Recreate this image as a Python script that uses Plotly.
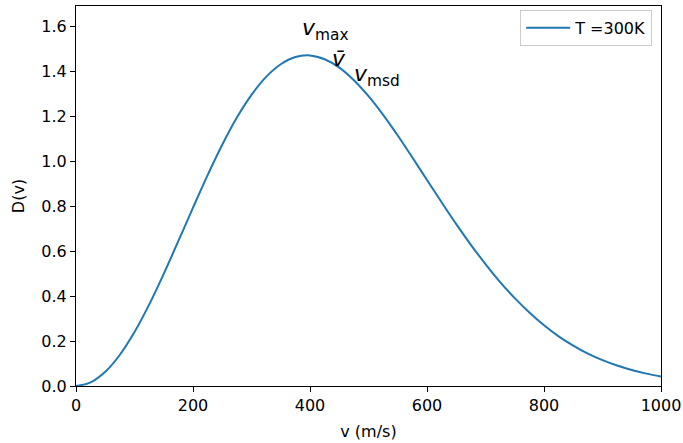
import plotly.graph_objects as go

# speed (m/s) and distribution values
speed = [0, 25, 50, 75, 100, 125, 150, 175, 200, 225, 250, 275, 300, 325, 350, 375,
         400, 425, 450, 475, 500, 525, 550, 575, 600, 625, 650, 675, 700, 725, 750,
         775, 800, 825, 850, 875, 900, 925, 950, 975, 1000]
density = [0.0, 0.016, 0.063, 0.139, 0.240, 0.362, 0.499, 0.645, 0.793, 0.938, 1.073,
           1.194, 1.295, 1.375, 1.431, 1.463, 1.470, 1.453, 1.416, 1.360, 1.289, 1.206,
           1.114, 1.016, 0.916, 0.817, 0.720, 0.628, 0.542, 0.462, 0.391, 0.327, 0.270,
           0.221, 0.180, 0.144, 0.115, 0.091, 0.071, 0.055, 0.042]

# characteristic speed labels: (label html, v, D)
label_text = ["<i>v</i><sub>max</sub>", "<i>v̄</i>", "<i>v</i><sub>msd</sub>"]
label_v = [386, 438, 475]
label_d = [1.542, 1.424, 1.338]

x_ticks = [0, 200, 400, 600, 800, 1000]
y_ticks = [0.0, 0.2, 0.4, 0.6, 0.8, 1.0, 1.2, 1.4, 1.6]

FONT = "DejaVu Sans"

fig = go.Figure()
fig.add_trace(go.Scatter(x=speed, y=density, mode="lines", name="T =300K",
                         line=dict(color="#1f77b4", width=2, shape="spline")))

for t, xv, yv in zip(label_text, label_v, label_d):
    fig.add_annotation(x=xv, y=yv, text=t, showarrow=False, xanchor="left",
                       yanchor="bottom", font=dict(family=FONT, size=22, color="black"),
                       xshift=-2, yshift=-7)

axis_common = dict(showgrid=False, zeroline=False, showline=True, linecolor="black",
                   linewidth=1, mirror=True, ticks="outside", ticklen=5, tickwidth=1,
                   tickcolor="black", tickfont=dict(family=FONT, size=16, color="black"),
                   automargin=False, ticklabeloverflow="allow")

fig.update_xaxes(range=[0, 1000], tickvals=x_ticks, ticktext=[str(v) for v in x_ticks],
                 title=dict(text="v (m/s)", font=dict(family=FONT, size=16, color="black"),
                            standoff=11), **axis_common)
fig.update_yaxes(range=[0, 1.69], tickvals=y_ticks, ticktext=[f"{v:.1f}" for v in y_ticks],
                 title=dict(text="D(v)", font=dict(family=FONT, size=16, color="black"),
                            standoff=12), **axis_common)

fig.update_layout(
    width=683, height=443,
    margin=dict(l=76, r=22, t=6, b=57),
    plot_bgcolor="white", paper_bgcolor="white",
    font=dict(family=FONT, size=16, color="black"),
    showlegend=True,
    legend=dict(x=0.985, y=0.99, xanchor="right", yanchor="top", itemwidth=44,
                bordercolor="#cccccc", borderwidth=1, bgcolor="rgba(255,255,255,0.8)",
                font=dict(family=FONT, size=16, color="black")),
)

fig.write_html("out.html", config={"displayModeBar": False},
               post_script="document.body.style.margin='0';document.body.style.padding='0';")
